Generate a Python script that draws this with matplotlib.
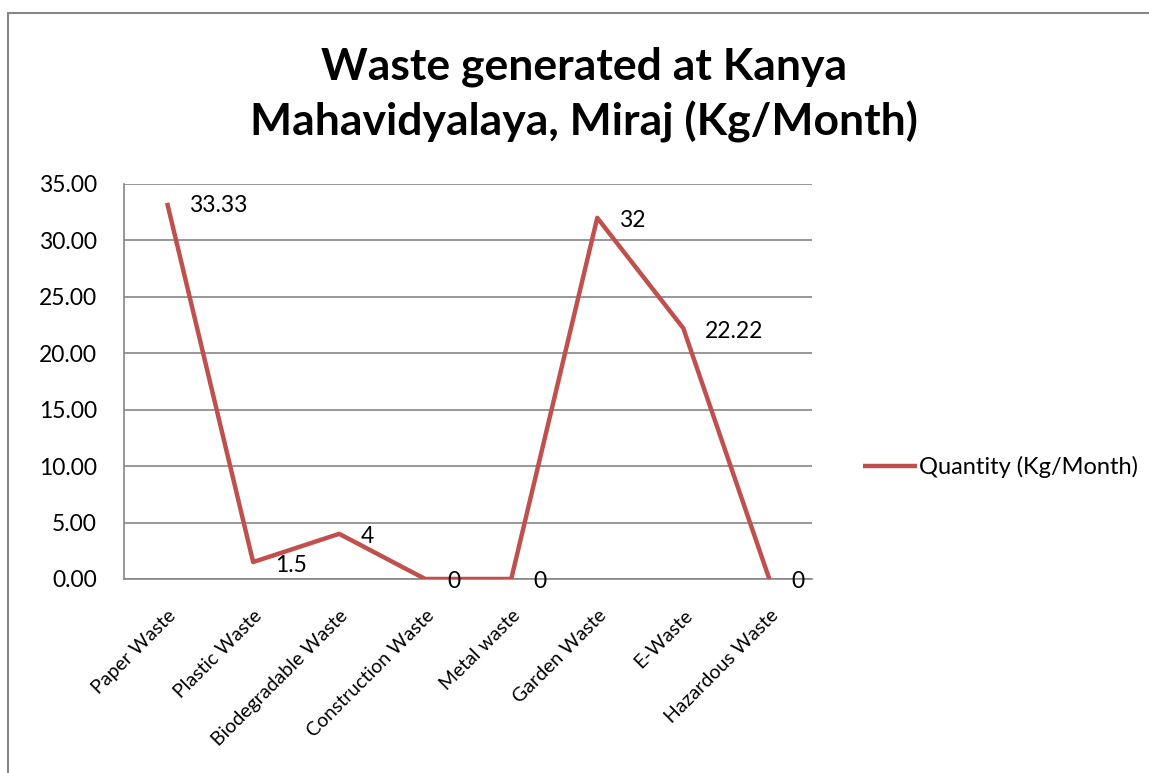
import matplotlib.pyplot as plt
from matplotlib.patches import Rectangle

categories = ['Paper Waste', 'Plastic Waste', 'Biodegradable Waste', 'Construction Waste',
              'Metal waste', 'Garden Waste', 'E-Waste', 'Hazardous Waste']
quantity = [33.33, 1.5, 4, 0, 0, 32, 22.22, 0]
value_labels = ['33.33', '1.5', '4', '0', '0', '32', '22.22', '0']
y_ticks = [0, 5, 10, 15, 20, 25, 30, 35]

plt.rcParams['font.family'] = ['Lato', 'DejaVu Sans']

fig = plt.figure(figsize=(11.49, 7.73), dpi=100)
ax = fig.add_axes([0.108, 0.251, 0.599, 0.511])

x = list(range(len(categories)))
line, = ax.plot(x, quantity, color='#C0504D', linewidth=3.2, solid_capstyle='butt',
                label='Quantity (Kg/Month)', zorder=3)

# data labels to the right of each point
for xi, yi, lab in zip(x, quantity, value_labels):
    ax.annotate(lab, (xi, yi), xytext=(22, -3), textcoords='offset pixels',
                ha='left', va='center', fontsize=16.5, zorder=4)

ax.set_xlim(-0.5, len(categories) - 0.5)
ax.set_ylim(0, 35)
ax.set_yticks(y_ticks)
ax.set_yticklabels([f'{v:.2f}' for v in y_ticks], fontsize=16.5)
ax.set_xticks(x)
ax.set_xticklabels(categories, rotation=45, ha='right', rotation_mode='anchor', fontsize=14)
ax.tick_params(axis='both', length=0)
ax.tick_params(axis='y', pad=19.5)
ax.tick_params(axis='x', pad=20)

ax.grid(axis='y', color='#868686', linewidth=1.2)
ax.set_axisbelow(True)
for side in ['top', 'right']:
    ax.spines[side].set_visible(False)
for side in ['left', 'bottom']:
    ax.spines[side].set_color('#868686')
    ax.spines[side].set_linewidth(1.2)

fig.text(0.508, 0.877, 'Waste generated at Kanya\nMahavidyalaya, Miraj (Kg/Month)',
         ha='center', va='center', fontsize=32, fontweight='bold', linespacing=1.4)

fig.legend(handles=[line], loc='center left', bbox_to_anchor=(0.733, 0.396),
           frameon=False, fontsize=17, handlelength=2.25, handletextpad=0.1)

# outer chart border (left and top edges visible)
fig.patches.append(Rectangle((8 / 1149, -0.1), 1.2, 1 - 13 / 773 + 0.1,
                             transform=fig.transFigure, fill=False,
                             edgecolor='#878787', linewidth=1.5))

fig.savefig('out.png', dpi=100)
